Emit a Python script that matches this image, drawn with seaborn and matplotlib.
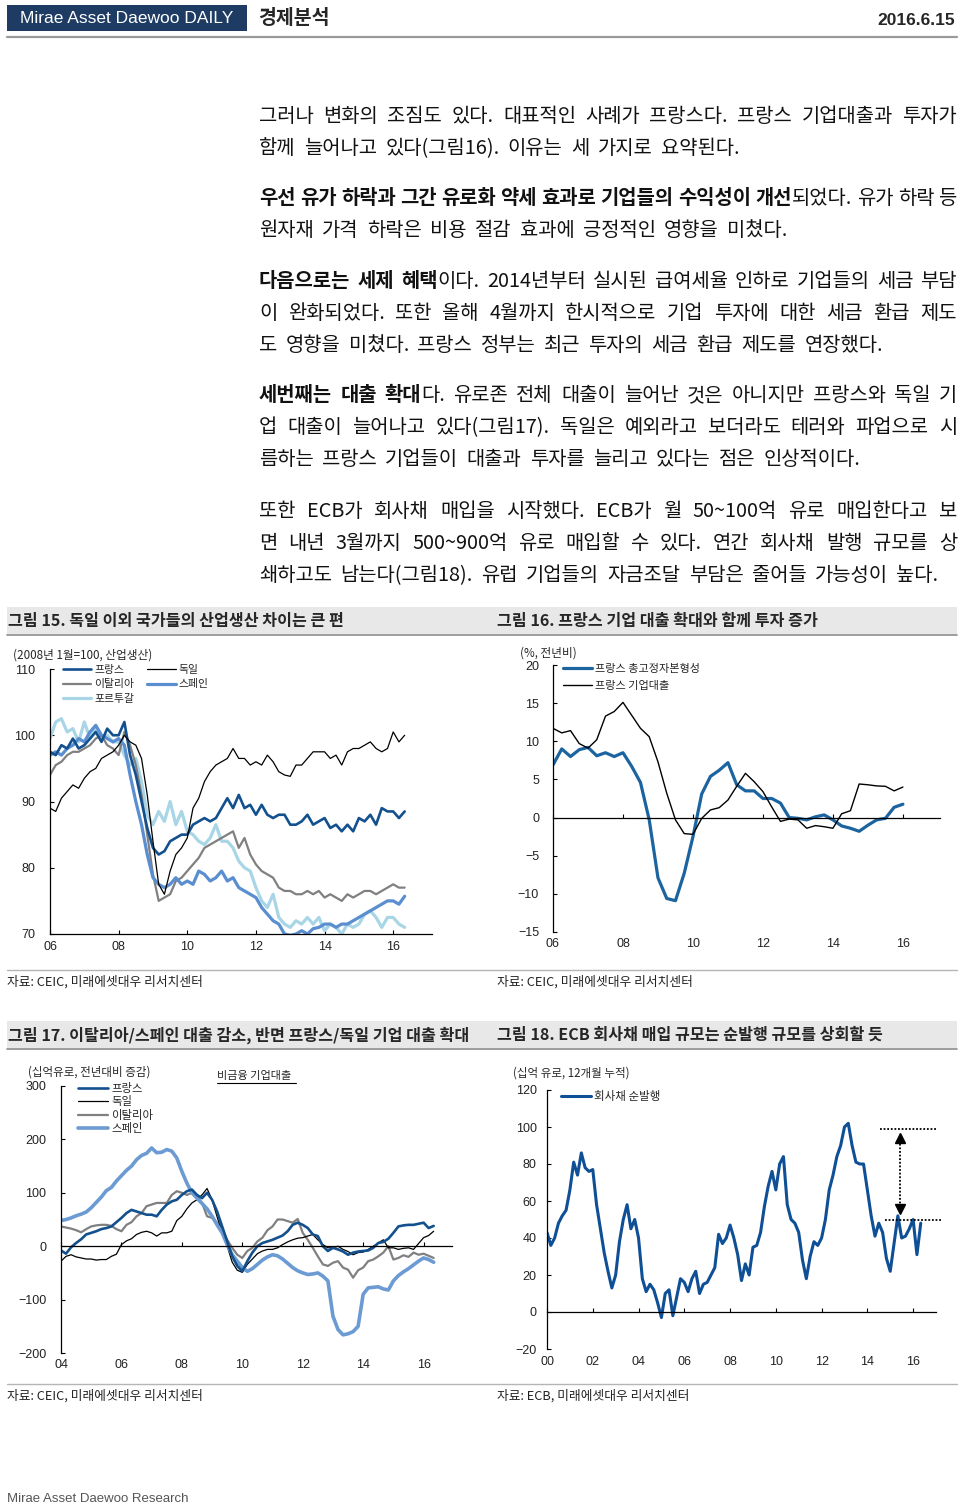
import matplotlib
matplotlib.use('Agg')
import matplotlib.pyplot as plt
from matplotlib.lines import Line2D
from matplotlib.patches import Rectangle
from matplotlib.font_manager import FontProperties
import numpy as np
import seaborn as sns

# ---------------- data ----------------
# 그림 15: 산업생산 (2008.1=100), every 2nd month from 2006.1
ip_start = 2006
ip_france = [97.5, 97.0, 98.5, 98.0, 99.5, 98.0,
             98.5, 99.5, 100.5, 99.0, 101.0, 100.0,
             100.0, 102.0, 97.0, 94.0, 90.0, 86.0,
             83.0, 82.0, 82.5, 84.0, 84.5, 85.0,
             85.0, 86.5, 87.0, 87.5, 87.0, 87.5,
             89.0, 90.5, 89.0, 91.0, 89.0, 89.5,
             88.0, 89.5, 88.0, 87.5, 88.0, 88.0,
             86.5, 86.5, 87.0, 88.0, 86.5, 87.0,
             87.5, 86.0, 86.5, 85.5, 86.5, 85.5,
             87.5, 87.0, 88.0, 86.5, 89.0, 88.5,
             88.5, 87.5, 88.5]
ip_germany = [89.0, 88.5, 90.5, 91.5, 92.5, 92.0,
              93.5, 94.5, 95.0, 96.5, 97.0, 97.5,
              98.5, 100.0, 99.0, 98.5, 96.5, 91.0,
              84.0, 77.5, 76.0, 79.5, 82.0, 83.0,
              84.5, 89.0, 90.5, 93.0, 94.5, 95.5,
              96.0, 96.5, 98.0, 96.5, 96.5, 95.5,
              96.0, 95.5, 97.0, 96.0, 94.5, 94.0,
              93.8, 95.5, 95.5, 96.5, 97.5, 97.5,
              97.5, 96.5, 97.0, 95.5, 97.5, 98.0,
              98.0, 98.5, 99.0, 98.0, 97.5, 98.0,
              100.5, 99.0, 100.0]
ip_italy = [94.0, 95.5, 96.0, 97.0, 97.5, 97.5,
            98.0, 98.5, 99.5, 100.0, 98.5, 98.0,
            97.0, 100.5, 98.5, 95.5, 91.0, 85.0,
            79.0, 75.0, 75.5, 76.0, 78.0, 78.5,
            79.5, 80.5, 81.5, 83.0, 83.5, 84.0,
            84.5, 85.0, 85.5, 83.0, 84.5, 82.0,
            80.5, 79.5, 79.0, 78.5, 77.0, 76.5,
            76.5, 76.0, 76.0, 76.5, 76.0, 76.5,
            75.5, 76.0, 75.5, 75.0, 76.0, 75.5,
            76.0, 76.5, 76.5, 76.0, 76.5, 77.0,
            77.5, 77.0, 77.0]
ip_spain = [97.0, 97.5, 97.0, 98.0, 98.5, 99.5,
            99.0, 100.5, 101.5, 100.0, 99.5, 99.0,
            99.5, 98.5, 94.0, 90.0, 86.5, 82.0,
            78.5, 77.5, 77.0, 77.5, 78.5, 77.5,
            78.0, 77.5, 79.5, 79.0, 78.0, 78.5,
            79.5, 78.0, 78.5, 77.0, 76.5, 76.0,
            75.5, 74.0, 73.0, 72.0, 71.5, 70.0,
            69.8, 70.0, 70.5, 70.0, 70.8, 71.0,
            71.5, 71.5, 71.0, 71.5, 71.5, 72.0,
            72.5, 73.0, 73.5, 74.0, 74.5, 75.0,
            75.0, 74.5, 75.7]
ip_portugal = [99.5, 102.0, 102.5, 100.5, 101.0, 99.0,
               102.0, 99.5, 101.0, 99.5, 100.0, 99.0,
               99.0, 97.0, 95.5, 96.5, 93.0, 88.0,
               86.5, 88.5, 87.0, 90.0, 86.5, 88.5,
               85.5, 85.0, 84.0, 83.5, 84.5, 86.5,
               84.0, 84.0, 83.0, 81.0, 80.0, 79.5,
               77.0, 75.0, 74.0, 76.0, 72.5, 71.5,
               71.0, 72.0, 71.5, 72.5, 71.5, 72.5,
               70.5, 71.5, 71.0, 70.0, 71.5, 71.0,
               71.5, 73.0, 73.5, 72.5, 71.0, 72.5,
               72.5, 71.5, 71.0]

# 그림 16: % y/y, quarterly from 2006Q1
q_start = 2006
gfcf_france = [6.9, 9.0, 8.0, 8.9, 9.2, 8.1, 8.5, 8.0, 8.5, 6.7, 4.6,
               -0.3, -7.9, -10.6, -10.9, -7.3, -2.5, 3.1, 5.4, 6.2, 7.2,
               4.3, 3.5, 3.5, 2.5, 2.5, 1.9, 0.0, -0.1, -0.3, 0.1,
               0.35, -0.3, -1.1, -1.4, -1.8, -1.0, -0.3, -0.1, 1.35, 1.75]
loans_france = [11.7, 11.1, 11.4, 9.7, 9.1, 10.2, 13.3, 13.9, 15.1, 13.4, 11.7,
                10.6, 7.3, 3.2, -0.3, -2.1, -2.2, -0.1, 1.0, 1.3, 2.3,
                4.1, 5.8, 4.7, 3.4, 1.4, -0.5, -0.2, -0.3, -1.4, -1.05,
                -1.2, -1.4, 0.5, 0.9, 4.4, 4.3, 4.15, 4.1, 3.5, 4.0]

# 그림 17: 비금융 기업대출, 십억유로 y/y change, every 2nd month from 2004.1
nfc_start = 2004
nfc_france = [-8, -14, -2, 6, 13, 22,
              25, 28, 32, 34, 37, 45,
              53, 62, 68, 65, 62, 59,
              59, 56, 68, 78, 84, 87,
              96, 103, 106, 96, 90, 100,
              87, 65, 37, 9, -19, -37,
              -47, -28, -12, 0, 6, 9,
              12, 16, 20, 28, 40, 44,
              40, 34, 22, 19, 0, -9,
              -3, -6, -10, -16, -12, -10,
              -9, -8, -3, 6, 8, 14,
              25, 37, 39, 40, 40, 42,
              44, 34, 38]
nfc_germany = [-28, -19, -16, -20, -22, -24,
               -24, -26, -25, -25, -19, -15,
               3, 10, 14, 22, 26, 28,
               25, 19, 25, 25, 28, 48,
               56, 70, 81, 87, 96, 108,
               87, 55, 25, 0, -30, -45,
               -49, -34, -24, -14, -9, -6,
               -6, -3, 3, 8, 12, 15,
               16, 19, 22, 12, 3, -3,
               -3, 0, -6, -10, -16, -12,
               -11, -6, 0, 6, 12, -3,
               -3, -6, -4, -3, -6, 5,
               16, 20, 28]
nfc_italy = [37, 35, 33, 30, 26, 32,
             37, 39, 40, 40, 38, 32,
             28, 40, 45, 56, 62, 75,
             78, 81, 81, 81, 96, 103,
             100, 96, 100, 93, 81, 56,
             53, 44, 31, 12, -3, -16,
             -22, -9, -3, 9, 16, 30,
             37, 50, 50, 47, 44, 51,
             25, 12, -3, -19, -34, -37,
             -31, -28, -40, -44, -59, -45,
             -40, -28, -25, -19, -12, 0,
             -25, -22, -17, -20, -12, -16,
             -14, -18, -22]
nfc_spain = [48, 50, 53, 57, 60, 64,
             72, 82, 92, 104, 110, 122,
             132, 142, 150, 162, 170, 174,
             184, 175, 176, 181, 178, 165,
             140, 118, 100, 90, 80, 70,
             56, 40, 25, 3, -16, -28,
             -40, -47, -42, -34, -26, -20,
             -16, -18, -24, -32, -40, -46,
             -50, -53, -52, -50, -56, -65,
             -131, -156, -166, -164, -160, -150,
             -90, -78, -77, -76, -80, -82,
             -65, -55, -48, -42, -35, -28,
             -22, -25, -30]

# 그림 18: 회사채 순발행, 십억 유로 12개월 누적, every 2nd month from 2000.1
cb_start = 2000
cb_net_issuance = [43, 36, 40, 48, 52, 55,
                   66, 81, 74, 86, 78, 76,
                   77, 58, 45, 32, 22, 13,
                   20, 38, 50, 58, 45, 50,
                   40, 18, 11, 15, 12, 5,
                   -3, 10, 12, -2, 8, 18,
                   16, 11, 18, 22, 10, 15,
                   16, 20, 24, 42, 37, 40,
                   47, 40, 31, 17, 26, 20,
                   35, 36, 43, 57, 68, 76,
                   66, 80, 84, 58, 50, 48,
                   43, 28, 18, 30, 38, 36,
                   40, 50, 66, 74, 84, 90,
                   100, 102, 90, 81, 80, 80,
                   66, 52, 41, 48, 43, 29,
                   22, 37, 52, 40, 41, 45,
                   50, 31, 48]
ecb_upper, ecb_lower = 99, 49.5   # dotted guide levels

# ---------------- page text ----------------
paragraphs = [
    [[("그러나 변화의 조짐도 있다. 대표적인 사례가 프랑스다. 프랑스 기업대출과 투자가", 0)],
     [("함께 늘어나고 있다(그림16). 이유는 세 가지로 요약된다.", 0)]],
    [[("우선 유가 하락과 그간 유로화 약세 효과로 기업들의 수익성이 개선", 1), ("되었다. 유가 하락 등", 0)],
     [("원자재 가격 하락은 비용 절감 효과에 긍정적인 영향을 미쳤다.", 0)]],
    [[("다음으로는 세제 혜택", 1), ("이다. 2014년부터 실시된 급여세율 인하로 기업들의 세금 부담", 0)],
     [("이 완화되었다. 또한 올해 4월까지 한시적으로 기업 투자에 대한 세금 환급 제도", 0)],
     [("도 영향을 미쳤다. 프랑스 정부는 최근 투자의 세금 환급 제도를 연장했다.", 0)]],
    [[("세번째는 대출 확대", 1), ("다. 유로존 전체 대출이 늘어난 것은 아니지만 프랑스와 독일 기", 0)],
     [("업 대출이 늘어나고 있다(그림17). 독일은 예외라고 보더라도 테러와 파업으로 시", 0)],
     [("름하는 프랑스 기업들이 대출과 투자를 늘리고 있다는 점은 인상적이다.", 0)]],
    [[("또한 ECB가 회사채 매입을 시작했다. ECB가 월 50~100억 유로 매입한다고 보", 0)],
     [("면 내년 3월까지 500~900억 유로 매입할 수 있다. 연간 회사채 발행 규모를 상", 0)],
     [("쇄하고도 남는다(그림18). 유럽 기업들의 자금조달 부담은 줄어들 가능성이 높다.", 0)]],
]
para_y = [115, 197, 280, 394, 510]

# ---------------- figure ----------------
sns.set_theme(style='white')
KR = ['Noto Sans CJK KR', 'DejaVu Sans']
NARROW = ['Liberation Sans Narrow', 'Liberation Sans', 'DejaVu Sans']
plt.rcParams['font.family'] = KR
plt.rcParams['axes.unicode_minus'] = True

W, H = 960, 1506
fig = plt.figure(figsize=(W / 100, H / 100), dpi=100)
fig.patch.set_facecolor('white')
page = fig.add_axes([0, 0, 1, 1])
page.set_xlim(0, W)
page.set_ylim(H, 0)
page.axis('off')
renderer = fig.canvas.get_renderer()


def text_w(s, size, bold=0):
    fp = FontProperties(family=KR, size=size, weight='bold' if bold else 'normal')
    return renderer.get_text_width_height_descent(s, fp, ismath=False)[0]


def tokens_of(segs):
    toks = [[]]
    for txt, b in segs:
        parts = txt.split(' ')
        for i, p in enumerate(parts):
            if i > 0:
                toks.append([])
            if p:
                toks[-1].append((p, b))
    return [t for t in toks if t]


# header
page.add_patch(Rectangle((7, 5), 240, 26, color='#1d3b63', lw=0))
page.text(20, 18.5, 'Mirae Asset Daewoo DAILY', color='white', fontsize=12.5,
          family=NARROW, va='center')
page.text(258, 18, '경제분석', fontsize=14, weight='bold', va='center')
page.text(955, 20, '2016.6.15', fontsize=12.5, family=NARROW, weight='bold',
          ha='right', va='center')
page.plot([7, 957], [37, 37], color='#9a9a9a', lw=1.6)

# body text, justified between X0 and X1
X0, X1 = 259, 957
fs = 14.3
sp = 0.42 * fs * 100 / 72

for para, y0 in zip(paragraphs, para_y):
    for li, segs in enumerate(para):
        y = y0 + li * 32
        toks = tokens_of(segs)
        widths = [sum(text_w(p, fs, b) for p, b in t) for t in toks]
        if li < len(para) - 1:
            gap = max((X1 - X0 - sum(widths)) / (len(toks) - 1), 2)
        else:
            gap = sp
        x = X0
        for t, tw in zip(toks, widths):
            for p, b in t:
                page.text(x, y + 7, p, fontsize=fs, weight='bold' if b else 'normal',
                          color='#111111', va='baseline', ha='left')
                x += text_w(p, fs, b)
            x += gap

# figure title bands and source lines
for band_y, left_title, right_title in [
        (607, '그림 15. 독일 이외 국가들의 산업생산 차이는 큰 편',
         '그림 16. 프랑스 기업 대출 확대와 함께 투자 증가'),
        (1021, '그림 17. 이탈리아/스페인 대출 감소, 반면 프랑스/독일 기업 대출 확대',
         '그림 18. ECB 회사채 매입 규모는 순발행 규모를 상회할 듯')]:
    page.add_patch(Rectangle((7, band_y), 950, 27, color='#e8e8e8', lw=0))
    page.plot([7, 957], [band_y + 28, band_y + 28], color='#8c8c8c', lw=1.2)
    page.text(8, band_y + 14, left_title, fontsize=11.6, weight='bold', va='center')
    page.text(497, band_y + 14, right_title, fontsize=11.6, weight='bold', va='center')

for line_y, src_l, src_r in [(970, '자료: CEIC, 미래에셋대우 리서치센터', '자료: CEIC, 미래에셋대우 리서치센터'),
                             (1384, '자료: CEIC, 미래에셋대우 리서치센터', '자료: ECB, 미래에셋대우 리서치센터')]:
    page.plot([7, 957], [line_y, line_y], color='#b5b5b5', lw=1)
    page.text(7, line_y + 12, src_l, fontsize=9.2, va='center', color='#222')
    page.text(497, line_y + 12, src_r, fontsize=9.2, va='center', color='#222')

page.text(7, 1499, 'Mirae Asset Daewoo Research', fontsize=9.5, family=NARROW,
          color='#555555', va='center')

# unit labels
page.text(13, 655, '(2008년 1월=100, 산업생산)', fontsize=8.4, va='center')
page.text(520, 653, '(%, 전년비)', fontsize=8.4, va='center')
page.text(28, 1072, '(십억유로, 전년대비 증감)', fontsize=8.3, va='center')
page.text(513, 1073, '(십억 유로, 12개월 누적)', fontsize=8.3, va='center')
page.text(217, 1076, '비금융 기업대출', fontsize=8, va='center')
page.plot([217, 296], [1083, 1083], color='black', lw=0.8)


def make_ax(x0, y0, x1, y1):
    return fig.add_axes([x0 / W, 1 - y1 / H, (x1 - x0) / W, (y1 - y0) / H])


def style(ax, xlim, ylim, xticks, xlabels, yticks, xpad, ypad, zero=False):
    ax.set_xlim(xlim)
    ax.set_ylim(ylim)
    ax.set_xticks(xticks, xlabels)
    ax.set_yticks(yticks)
    ax.set_xlabel('')
    ax.set_ylabel('')
    ax.grid(False)
    ax.patch.set_alpha(0)
    for s in ('top', 'right'):
        ax.spines[s].set_visible(False)
    for s in ('left', 'bottom'):
        ax.spines[s].set_color('black')
        ax.spines[s].set_linewidth(0.9)
    if zero:
        ax.spines['bottom'].set_position(('data', 0))
    ax.tick_params(bottom=True, left=True, direction='in', length=3, width=0.8,
                   color='black', labelsize=9, labelcolor='#222',
                   labelfontfamily='Liberation Sans')
    ax.tick_params(axis='x', pad=xpad)
    ax.tick_params(axis='y', pad=ypad)


def legend(ax, items, anchor, size, ncol=1, spacing=0.45, colsp=1.4):
    handles = [Line2D([], [], color=c, lw=lw) for _, c, lw in items]
    labels = [n for n, _, _ in items]
    ax.legend(handles, labels, ncol=ncol, loc='upper left',
              bbox_to_anchor=(anchor[0] / W, 1 - anchor[1] / H),
              bbox_transform=fig.transFigure, frameon=False, fontsize=size,
              handlelength=2.6, handletextpad=0.3, labelspacing=spacing,
              columnspacing=colsp, borderaxespad=0, borderpad=0)


NAVY = '#13508e'
GREY = '#808080'

# ---- 그림 15 ----
ax = make_ax(50, 669, 432, 934)
ipx = ip_start + np.arange(len(ip_france)) / 6
s15 = [('포르투갈', ip_portugal, '#a8d6e6', 2.3), ('이탈리아', ip_italy, GREY, 1.6),
       ('스페인', ip_spain, '#5a8ed0', 2.3), ('프랑스', ip_france, NAVY, 1.9),
       ('독일', ip_germany, 'black', 0.9)]
for name, vals, c, lw in s15:
    sns.lineplot(x=ipx, y=vals, ax=ax, color=c, linewidth=lw)
style(ax, (2006, 2017.13), (70, 110), [2006, 2008, 2010, 2012, 2014, 2016],
      ['06', '08', '10', '12', '14', '16'], [70, 80, 90, 100, 110], 5, 10.5)
st = {n: (c, lw) for n, _, c, lw in s15}
legend(ax, [(n,) + st[n] for n in ['프랑스', '이탈리아', '포르투갈', '독일', '스페인']],
       (63, 665), 7.8, ncol=2, spacing=0.4, colsp=1.2)

# ---- 그림 16 ----
ax = make_ax(553, 665, 940, 932)
qx = q_start + np.arange(len(gfcf_france)) / 4
sns.lineplot(x=qx, y=gfcf_france, ax=ax, color='#1c64a0', linewidth=2.3)
sns.lineplot(x=qx, y=loans_france, ax=ax, color='black', linewidth=1.0)
style(ax, (2006, 2017.06), (-15, 20), [2006, 2008, 2010, 2012, 2014, 2016],
      ['06', '08', '10', '12', '14', '16'], [-15, -10, -5, 0, 5, 10, 15, 20],
      87, 10, zero=True)
legend(ax, [('프랑스 총고정자본형성', '#1c64a0', 2.3), ('프랑스 기업대출', 'black', 1.0)],
       (563, 664), 8, spacing=0.6)

# ---- 그림 17 ----
ax = make_ax(61, 1086, 452, 1353)
nx = nfc_start + np.arange(len(nfc_france)) / 6
s17 = [('이탈리아', nfc_italy, GREY, 1.6), ('독일', nfc_germany, 'black', 0.9),
       ('스페인', nfc_spain, '#6b9bd2', 2.6), ('프랑스', nfc_france, NAVY, 1.9)]
for name, vals, c, lw in s17:
    sns.lineplot(x=nx, y=vals, ax=ax, color=c, linewidth=lw)
style(ax, (2004, 2016.94), (-200, 300), [2004, 2006, 2008, 2010, 2012, 2014, 2016],
      ['04', '06', '08', '10', '12', '14', '16'], [-200, -100, 0, 100, 200, 300],
      81, 10.5, zero=True)
st = {n: (c, lw) for n, _, c, lw in s17}
legend(ax, [(n,) + st[n] for n in ['프랑스', '독일', '이탈리아', '스페인']],
       (78, 1083), 8.2, spacing=0.2)

# ---- 그림 18 ----
ax = make_ax(547, 1090, 936, 1349)
cx = cb_start + np.arange(len(cb_net_issuance)) / 6
sns.lineplot(x=cx, y=cb_net_issuance, ax=ax, color='#0f4f96', linewidth=2.2)
style(ax, (2000, 2017), (-20, 120), list(range(2000, 2017, 2)),
      ['00', '02', '04', '06', '08', '10', '12', '14', '16'],
      [-20, 0, 20, 40, 60, 80, 100, 120], 31.5, 7.5, zero=True)
legend(ax, [('회사채 순발행', '#0f4f96', 2.2)], (561, 1090), 8.3)
arrow_x = 2015.42
ax.plot([2014.55, 2017.05], [ecb_upper, ecb_upper], ls=(0, (1, 1)), color='black',
        lw=1.3, clip_on=False)
ax.plot([2014.77, 2017.25], [ecb_lower, ecb_lower], ls=(0, (1, 1)), color='black',
        lw=1.3, clip_on=False)
ax.plot([arrow_x, arrow_x], [ecb_lower + 7, ecb_upper - 6], ls=(0, (1, 1)),
        color='black', lw=1.3)
ax.plot([arrow_x], [ecb_upper - 5], marker='^', color='black', ms=7)
ax.plot([arrow_x], [ecb_lower + 6], marker='v', color='black', ms=7)

fig.savefig('out.png', dpi=100, facecolor='white')
